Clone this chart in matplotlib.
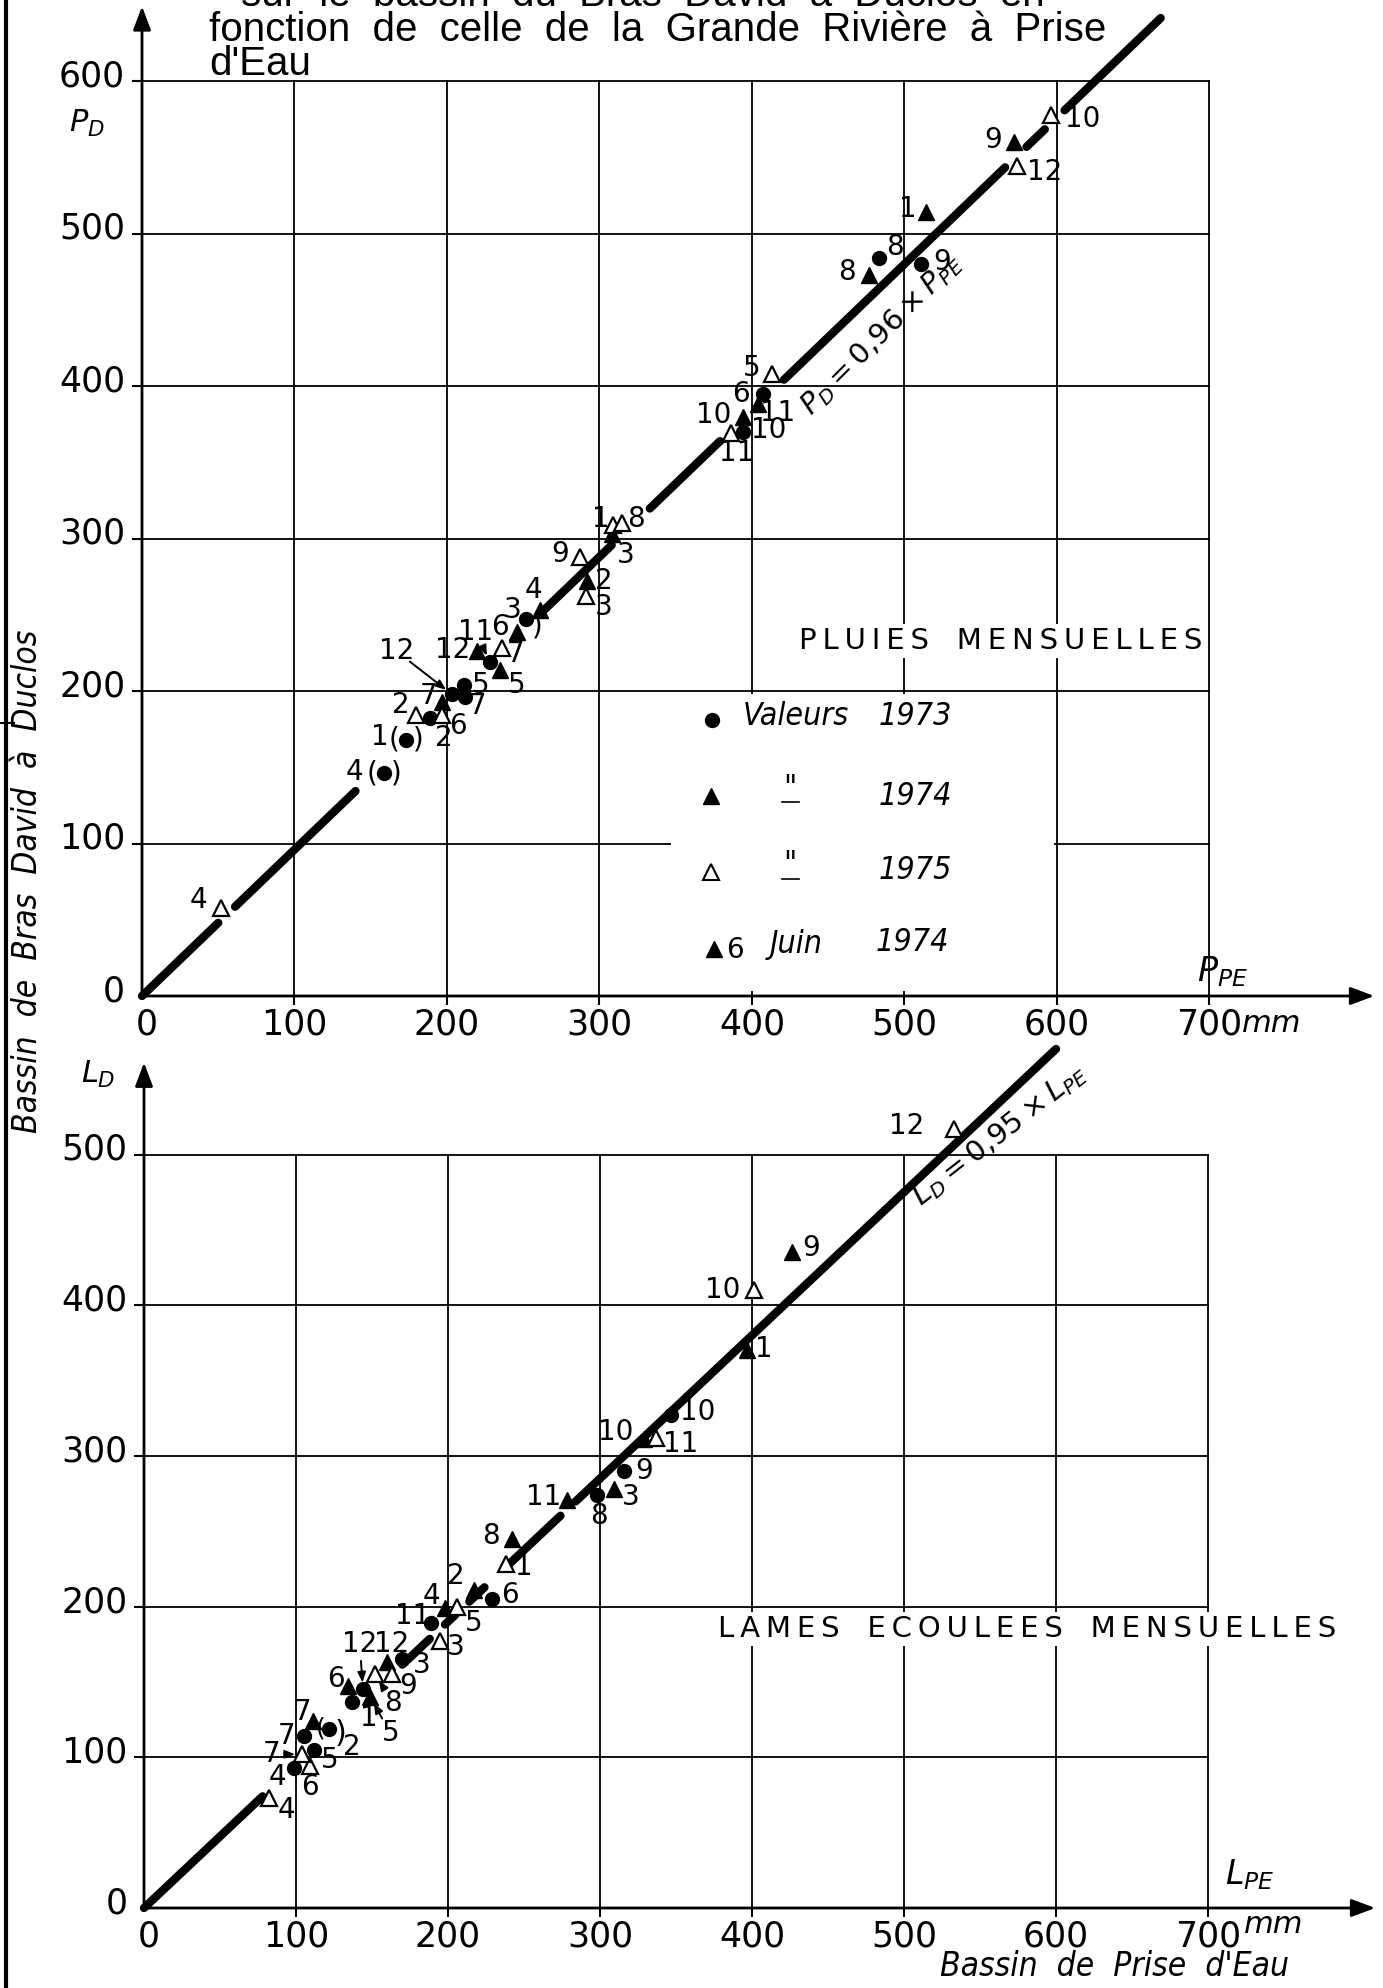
import numpy as np
import matplotlib.pyplot as plt
from matplotlib.patches import Rectangle

plt.rcParams['font.family'] = ['DejaVu Sans']

# ---- données (mm) ----
MOIS = list(range(1, 13))

# pluies mensuelles : Prise d'Eau (x) / Duclos (y)
p73_pe = [173, 189, 252, 159, 211, 407, 212, 483, 511, 394, 228, 203]
p73_d = [168, 182, 247, 146, 204, 395, 196, 484, 480, 370, 219, 198]
p74_pe = [514, 292, 308, 261, 235, 246, 197, 477, 572, 394, 404, 220]
p74_d = [514, 272, 303, 253, 214, 239, 193, 473, 560, 380, 388, 226]
p75_pe = [309, 180, 291, 52, 413, 197, 236, 315, 287, 596, 386, 574]
p75_d = [309, 184, 262, 58, 408, 184, 228, 310, 288, 578, 369, 544]

# lames écoulées mensuelles
l73_pe = [137, 122, 170, 99, 112, 229, 105, 298, 316, 347, 189, 144]
l73_d = [137, 119, 165, 93, 105, 205, 114, 274, 290, 327, 189, 145]
l74_pe = [397, 217, 309, 198, 149, 134, 111, 242, 426, 329, 278, 160]
l74_d = [370, 211, 278, 199, 140, 147, 124, 245, 435, 311, 271, 163]
l75_mois = [1, 3, 4, 5, 6, 7, 8, 9, 10, 11, 12]
l75_pe = [238, 195, 82, 206, 109, 104, 152, 163, 401, 337, 533]
l75_d = [228, 177, 73, 200, 94, 102, 155, 155, 410, 312, 517]

PENTE_P = 0.96
PENTE_L = 0.95

# ---- décalages des numéros (mm) ----
off_p73 = [(-17, 2), (9, -13), (-9, 6), (-20, 1), (11, 0), (-14, 0),
           (8, -6), (11, 7), (14, 1), (17, 1), (-9, 20), (-36, 28)]
off_p74 = [(-12, 2), (11, 0), (9, -14), (-4, 13), (11, -10), (-11, 3),
           (-9, 4), (-15, 2), (-14, 1), (-19, 1), (13, -6), (-16, 1)]
off_p75 = [(-8, 4), (-10, 7), (12, -7), (-15, 5), (-13, 4), (10, -7),
           (9, -4), (9, 3), (-13, 2), (21, -3), (4, -13), (18, -4)]
off_l73 = [(11, -11), (15, -12), (13, -4), (-11, -6), (10, -7), (12, 3),
           (-11, 0), (1, -14), (13, 0), (17, 2), (-12, 5), (-2, 30)]
off_l74 = [(11, 1), (-12, 9), (11, -5), (-9, 8), (13, -24), (-8, 5),
           (-7, 6), (-14, 2), (13, 3), (-19, 5), (-15, 2), (3, 12)]
off_l75 = [(12, -2), (10, -4), (12, -8), (11, -11), (0, -14), (-20, 0),
           (12, -19), (11, -8), (-20, 0), (16, -4), (-31, 2)]

W, H = 1383, 1988
fig = plt.figure(figsize=(W / 100, H / 100), dpi=100)


def make_axes(top_px, bot_px, x0_px, y0_px, sx, sy):
    ax = fig.add_axes([0, 1 - bot_px / H, 1, (bot_px - top_px) / H])
    ax.set_xlim(-x0_px / sx, (W - x0_px) / sx)
    ax.set_ylim((y0_px - bot_px) / sy, (y0_px - top_px) / sy)
    ax.axis('off')
    return ax


ax1 = make_axes(0, 1030, 142, 996, 1.525, 1.525)
ax2 = make_axes(1030, 1988, 144, 1908, 1.52, 1.507)

ARROW = dict(arrowstyle='-|>,head_length=0.4,head_width=0.15', lw=2,
             color='k', mutation_scale=36, shrinkA=0, shrinkB=0)
NARROW = dict(family='DejaVu Sans', fontstretch='condensed', style='italic')


def cadre(ax, ygrid, xfleche, yfleche, ylabs):
    for v in range(100, 800, 100):
        ax.plot([v, v], [0, ygrid], color='k', lw=1.3, zorder=1)
        ax.plot([v, v], [0, -5], color='k', lw=1.5, zorder=1)
    for h in range(100, ygrid + 1, 100):
        ax.plot([0, 700], [h, h], color='k', lw=1.3, zorder=1)
    for h in range(100, max(ylabs) + 1, 100):
        ax.plot([-6, 0], [h, h], color='k', lw=1.5, zorder=1)
    ax.annotate('', xy=(xfleche, 0), xytext=(0, 0), arrowprops=ARROW, zorder=3)
    ax.annotate('', xy=(0, yfleche), xytext=(0, 0), arrowprops=ARROW, zorder=3)
    for h in ylabs:
        ax.text(-11, h + 3, str(h), ha='right', va='center', fontsize=25)


def droite(ax, pente, segments):
    for a, b in segments:
        xs = np.array([a, b])
        ax.plot(xs, pente * xs, color='k', lw=6, solid_capstyle='round', zorder=3)


def points(ax, xs, ys, mois, offs, style):
    if style == 'rond':
        ax.plot(xs, ys, 'o', color='k', ms=10, zorder=4)
    elif style == 'plein':
        ax.plot(xs, ys, '^', color='k', ms=12, zorder=4)
    else:
        ax.plot(xs, ys, '^', mfc='white', mec='k', mew=1.6, ms=12, zorder=4)
    for x, y, m, (dx, dy) in zip(xs, ys, mois, offs):
        ax.text(x + dx, y + dy, str(m), ha='center', va='center', fontsize=20, zorder=5)


def fleche(ax, x, y, dx, dy):
    ax.annotate('', xy=(x, y), xytext=(x + dx, y + dy),
                arrowprops=dict(arrowstyle='-|>,head_length=0.5,head_width=0.2',
                                lw=1.4, color='k', mutation_scale=12,
                                shrinkA=12, shrinkB=5), zorder=5)


# ================= PLUIES =================
cadre(ax1, 600, 808, 649, list(range(0, 700, 100)))
for v in range(0, 800, 100):
    ax1.text(v + (3 if v == 0 else 0), -19, str(v), ha='center', va='center', fontsize=25)
ax1.text(741, -18, 'mm', ha='center', va='center', fontsize=22, style='italic')
ax1.text(692, 16, r'$\mathit{P_{PE}}$', ha='left', va='center', fontsize=24)
ax1.text(-36, 572, r'$\mathit{P_D}$', ha='center', va='center', fontsize=22)

# légende
ax1.add_patch(Rectangle((347, 3), 251, 195, fc='white', ec='none', zorder=2))
ax1.plot(374, 181, 'o', color='k', ms=10, zorder=4)
ax1.plot(373, 131, '^', color='k', ms=11, zorder=4)
ax1.plot(373, 81, '^', mfc='white', mec='k', mew=1.5, ms=11, zorder=4)
ax1.plot(375, 31, '^', color='k', ms=11, zorder=4)
ax1.text(389, 30, '6', ha='center', va='center', fontsize=20, zorder=5)
leg_kw = dict(ha='center', va='center', fontsize=23, zorder=5, **NARROW)
ax1.text(429, 183, 'Valeurs', **leg_kw)
ax1.text(507, 183, '1973', **leg_kw)
ax1.text(425, 136, '"', **leg_kw)
ax1.plot([420, 431], [127, 127], color='k', lw=1.2, zorder=5)
ax1.text(507, 131, '1974', **leg_kw)
ax1.text(425, 86, '"', **leg_kw)
ax1.plot([420, 431], [77, 77], color='k', lw=1.2, zorder=5)
ax1.text(507, 82, '1975', **leg_kw)
ax1.text(429, 34, 'Juin', **leg_kw)
ax1.text(505, 35, '1974', **leg_kw)

ax1.text(563, 233, 'P\u2009L\u2009U\u2009I\u2009E\u2009S   M\u2009E\u2009N\u2009S\u2009U\u2009E\u2009L\u2009L\u2009E\u2009S',
         ha='center', va='center', fontsize=21, zorder=5,
         bbox=dict(fc='white', ec='none', pad=2))

droite(ax1, PENTE_P, [(0, 50), (61, 140), (262, 308), (333, 379),
                      (421, 566), (580, 592), (605, 668)])
ax1.text(485, 434, r'$\mathit{P_D = 0{,}96 \times P_{PE}}$', rotation=45,
         rotation_mode='anchor', ha='center', va='center', fontsize=21, zorder=5)

points(ax1, p73_pe, p73_d, MOIS, off_p73, 'rond')
points(ax1, p74_pe, p74_d, MOIS, off_p74, 'plein')
points(ax1, p75_pe, p75_d, MOIS, off_p75, 'vide')
for i in (0, 3):
    ax1.text(p73_pe[i] - 8, p73_d[i], '(', ha='center', va='center', fontsize=20)
    ax1.text(p73_pe[i] + 8, p73_d[i], ')', ha='center', va='center', fontsize=20)
ax1.text(p73_pe[2] + 7, p73_d[2] - 5, ')', ha='center', va='center', fontsize=20)
fleche(ax1, p73_pe[11], p73_d[11], *off_p73[11])
fleche(ax1, p73_pe[10], p73_d[10], *off_p73[10])

# ================= LAMES =================
cadre(ax2, 500, 810, 561, list(range(0, 600, 100)))
for v in range(0, 800, 100):
    ax2.text(v + (3 if v == 0 else 0), -19, str(v), ha='center', va='center', fontsize=25)
ax2.text(743, -11, 'mm', ha='center', va='center', fontsize=22, style='italic')
ax2.text(711, 22, r'$\mathit{L_{PE}}$', ha='left', va='center', fontsize=24)
ax2.text(-30, 553, r'$\mathit{L_D}$', ha='center', va='center', fontsize=22)

ax2.text(581, 185, 'L\u2009A\u2009M\u2009E\u2009S   E\u2009C\u2009O\u2009U\u2009L\u2009E\u2009E\u2009S   '
         'M\u2009E\u2009N\u2009S\u2009U\u2009E\u2009L\u2009L\u2009E\u2009S',
         ha='center', va='center', fontsize=21, zorder=5,
         bbox=dict(fc='white', ec='none', pad=2))

droite(ax2, PENTE_L, [(0, 78), (170, 188), (198, 205), (214, 224),
                      (240, 274), (284, 600)])
ax2.text(563, 513, r'$\mathit{L_D = 0{,}95 \times L_{PE}}$', rotation=38,
         rotation_mode='anchor', ha='center', va='center', fontsize=21, zorder=5)

points(ax2, l73_pe, l73_d, MOIS, off_l73, 'rond')
points(ax2, l74_pe, l74_d, MOIS, off_l74, 'plein')
points(ax2, l75_pe, l75_d, l75_mois, off_l75, 'vide')
ax2.text(l73_pe[1] - 6, l73_d[1], '(', ha='center', va='center', fontsize=18)
ax2.text(l73_pe[1] + 7, l73_d[1] - 3, ')', ha='center', va='center', fontsize=22)
fleche(ax2, l73_pe[11], l73_d[11], *off_l73[11])
fleche(ax2, l74_pe[4], l74_d[4], *off_l74[4])
fleche(ax2, l75_pe[5], l75_d[5], *off_l75[5])
fleche(ax2, l75_pe[6], l75_d[6], *off_l75[6])

# ---- textes de la page ----
fig.text(28 / W, 1 - 881 / H, 'Bassin  de  Bras  David  à  Duclos', rotation=90,
         ha='center', va='center', fontsize=24, **NARROW)
fig.text(1115 / W, 1 - 1967 / H, "Bassin  de  Prise  d'Eau", ha='center', va='center',
         fontsize=24, **NARROW)

titre = ['Liberation Sans', 'DejaVu Sans']
fig.text(241 / W, 1 - 6 / H, 'sur  le  bassin  du  Bras  David  à  Duclos  en',
         ha='left', va='baseline', fontsize=29, family=titre)
fig.text(209 / W, 1 - 41 / H, 'fonction  de  celle  de  la  Grande  Rivière  à  Prise',
         ha='left', va='baseline', fontsize=29, family=titre)
fig.text(209 / W, 1 - 75 / H, "d'Eau", ha='left', va='baseline', fontsize=29, family=titre)

# bord gauche de la page
fig.add_artist(plt.Line2D([6 / W, 6 / W], [0, 1], color='k', lw=3))
fig.add_artist(plt.Line2D([0, 14 / W], [1 - 723 / H, 1 - 723 / H], color='k', lw=1.5))

fig.savefig('out.png', dpi=100)
